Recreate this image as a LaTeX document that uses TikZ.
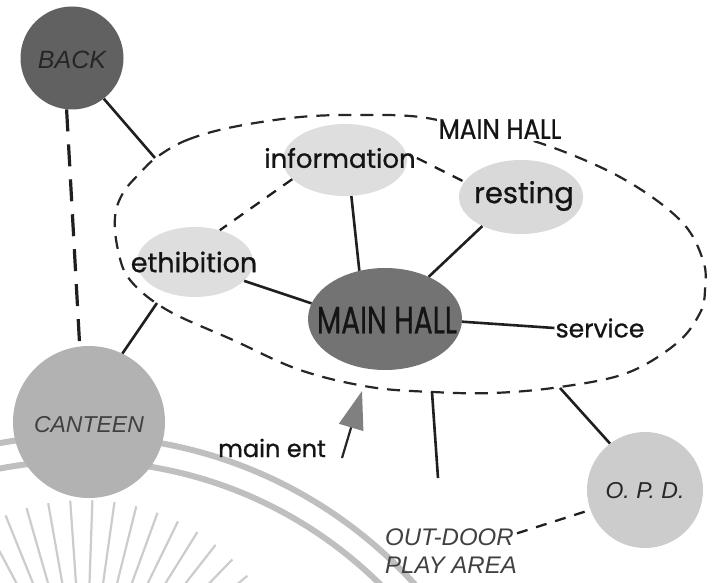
\documentclass[tikz,border=0pt]{standalone}
\usepackage{fontspec}
\usepackage{graphicx}
\setmainfont{Liberation Sans}
\newfontfamily\hand{Poppins}[FakeBold=0.8]
\usetikzlibrary{shapes.geometric,arrows.meta}
\begin{document}
\begin{tikzpicture}[x=1pt,y=-1pt,
  conn/.style={line width=2.6pt, black!88},
  dconn/.style={line width=2.3pt, black!88, dash pattern=on 11pt off 9pt},
  bigdash/.style={line width=3.2pt, black!88, dash pattern=on 22pt off 13pt},
  hall/.style={line width=2.2pt, black!85, dash pattern=on 13pt off 9pt},
  blob/.style={ellipse, draw=none, inner sep=0pt},
  ball/.style={circle, draw=none, inner sep=0pt},
  capt/.style={font=\fontsize{24}{28}\selectfont\itshape, text=black!75},
  handt/.style={font=\hand\fontsize{26}{30}\selectfont, text=black!92, inner sep=1pt},
  wm/.style={black!25, line width=6pt},
  ray/.style={black!20, line width=2.2pt}]
\useasboundingbox (0,0) rectangle (720,583);
\fill[white] (0,0) rectangle (720,583);

% faint watermark in the background
\begin{scope}
  \clip (0,0) rectangle (720,583);
  \draw[wm] (80,888) circle (452);
  \draw[wm] (80,888) circle (427);
  \foreach \a in {212,218,...,336} {
    \draw[ray] ([shift={(\a:125)}]85,712) -- ([shift={(\a:212)}]85,712);
  }
\end{scope}

% shaded areas
\node[ball, fill=black!62, minimum size=103pt] (back) at (72,58) {};
\node[ball, fill=black!30, minimum size=152pt] (canteen) at (89,422) {};
\node[ball, fill=black!20, minimum size=116pt] (opd) at (645,490) {};
\node[blob, fill=black!13, minimum width=124pt, minimum height=72pt] (info) at (345,160) {};
\node[blob, fill=black!15, minimum width=124pt, minimum height=74pt] (rest) at (521,197) {};
\node[blob, fill=black!13, minimum width=116pt, minimum height=70pt] (exh) at (195,262) {};
\node[blob, fill=black!55, minimum width=154pt, minimum height=102pt] (mh) at (385,319) {};

% dashed boundary of the main hall zone
\draw[hall] plot[smooth cycle, tension=0.6] coordinates {
  (157,157) (187,140) (233,127) (300,117) (360,115) (420,117) (480,130)
  (540,143) (620,177) (680,220) (703,260) (705,290) (700,313) (677,343)
  (627,373) (560,387) (493,393) (433,392) (370,387) (300,370) (233,340)
  (167,310) (130,280) (118,250) (115,217) (123,193) (140,173)};

% points on the boundary
\coordinate (hallnw) at (155,158);
\coordinate (hallsw) at (157,303);
\coordinate (hallse) at (560,388);
\coordinate (halls) at (432,392);
\coordinate (odtop) at (438,478);
\coordinate (ent1) at (342,458);
\coordinate (ent2) at (362,391);

% texts
\node[font=\fontsize{25}{28}\selectfont\itshape, text=black!85] (backt) at (72,60) {BACK};
\node[capt, font=\fontsize{23}{28}\selectfont\itshape] (cant) at (89,425) {CANTEEN};
\node[capt, font=\fontsize{23}{28}\selectfont\itshape, text=black!85] (opdt) at (645,491) {O.\ P.\ D.};
\node[capt, align=left, anchor=west, inner sep=0pt] (od) at (385,551) {OUT-DOOR\\PLAY AREA};
\node[handt] (infot) at (340,158) {information};
\node[handt, font=\hand\fontsize{29}{32}\selectfont] (restt) at (524,196) {resting};
\node[handt, font=\hand\fontsize{27}{30}\selectfont] (exht) at (194,262) {ethibition};
\node[handt, font=\hand\fontsize{25}{30}\selectfont] (serv) at (600,328) {service};
\node[handt, font=\hand\fontsize{24}{28}\selectfont] (entt) at (272,448) {main ent};
\node[handt, inner sep=0pt] (mht) at (387,320) {\scalebox{0.74}[1]{\fontsize{38}{40}\selectfont MAIN HALL}};
\node[handt, fill=white, inner sep=2pt] (hallt) at (500,129) {\scalebox{0.88}[1]{\fontsize{28}{30}\selectfont MAIN HALL}};

% connectors
\draw[bigdash] (back.-96) -- (canteen.97);
\draw[conn] (back.-52) -- (hallnw);
\draw[conn] (hallsw) -- (canteen.64);
\draw[conn] (info.-80) -- (mh.118);
\draw[conn] (rest.217) -- (mh.44);
\draw[conn] (exh.-21) -- (mh.168);
\draw[conn] (mh.-2) -- (serv.west);
\draw[conn] (hallse) -- (opd.127);
\draw[conn] (halls) -- (odtop);
\draw[dconn] (info.200) -- (exh.52);
\draw[dconn] (infot.east) -- (rest.165);
\draw[dconn] (od.15) -- (opd.200);
\draw[line width=2.2pt, black!85, -{Triangle[length=38pt,width=25pt,fill=black!50,color=black!50]}] (ent1) -- (ent2);
\end{tikzpicture}
\end{document}
